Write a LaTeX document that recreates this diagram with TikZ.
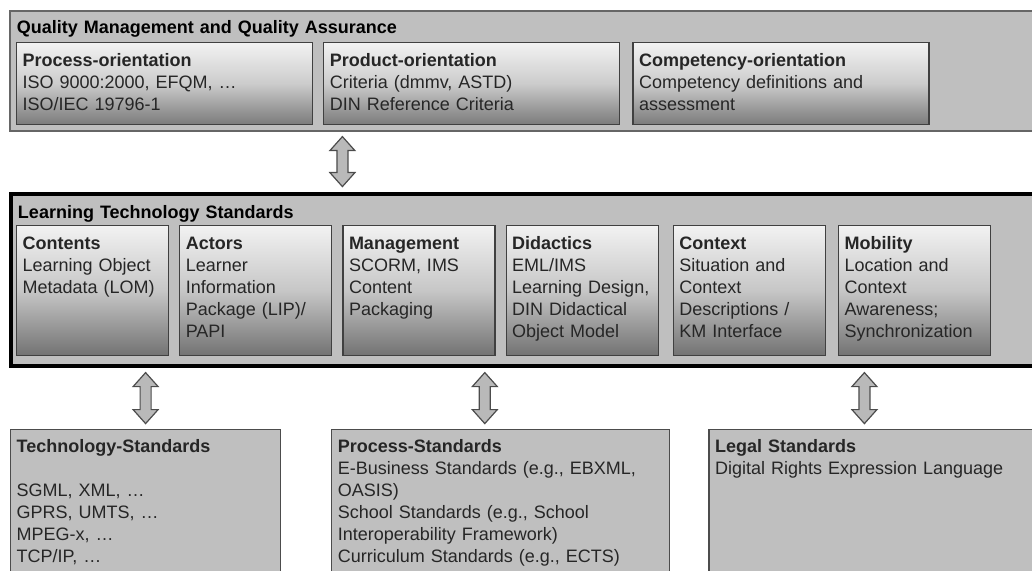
\documentclass[tikz,border=0pt]{standalone}
\usepackage{fontspec}
\setsansfont{Liberation Sans}
\usetikzlibrary{
  positioning,
  calc
}

\begin{document}
\begin{tikzpicture}[node distance=5pt, every node/.style={font=\sffamily\fontsize{9}{11}\selectfont}, align=left,
  qmbox/.style={draw=black!60, line width=0.8pt, rectangle, fill=gray!50, inner xsep=3.5pt, inner ysep=3pt, text width=513pt, text height=8.5pt, text depth=45.5pt, font=\sffamily\bfseries\fontsize{9}{11}\selectfont},
  ltsbox/.style={draw=black, line width=2pt, rectangle, fill=gray!50, inner xsep=3.5pt, inner ysep=3pt, text width=513pt, text height=9.5pt, text depth=70.5pt, font=\sffamily\bfseries\fontsize{9}{11}\selectfont},
  qbox/.style={draw=black!75, line width=0.6pt, rectangle, top color=black!5, bottom color=black!52, middle color=black!20, text=black!85, inner sep=3pt, text width=142pt, text height=9pt, text depth=26pt},
  lbox/.style={draw=black!75, line width=0.6pt, rectangle, top color=black!5, bottom color=black!55, middle color=black!22, text=black!85, inner sep=3pt, text width=70pt, text height=9pt, text depth=50pt},
  sbox/.style={draw=black!70, line width=0.6pt, rectangle, fill=gray!50, text=black!85, inner sep=3pt, text height=8.5pt, text depth=72pt},
  dblarrow/.style={draw=black!70, fill=gray!55, line width=0.6pt, line join=miter, to path={
    ($(\tikztostart)+(0,-2.5pt)$) -- ++(6.25pt,-7pt) -- ++(-3.5pt,0)
    -- ($(\tikztotarget)+(2.75pt,9.5pt)$) -- ++(3.5pt,0) -- ($(\tikztotarget)+(0,2.5pt)$)
    -- ++(-6.25pt,7pt) -- ++(3.5pt,0) -- ($(\tikztostart)+(-2.75pt,-9.5pt)$) -- ++(-3.5pt,0) -- cycle}}
]
\useasboundingbox (0,0) rectangle (516pt,-285.5pt);

% Quality management
\node[qmbox, anchor=north west] (qm) at (4.5pt,-5pt) {Quality Management and Quality Assurance};
\node[qbox, below right=16pt and 3.5pt of qm.north west] (porient) {\textbf{Process-orientation}\\ ISO 9000:2000, EFQM, …\\ ISO/IEC 19796-1};
\node[qbox, right=of porient] (prorient) {\textbf{Product-orientation}\\ Criteria (dmmv, ASTD)\\ DIN Reference Criteria};
\node[qbox, right=6pt of prorient] (corient) {\textbf{Competency-orientation}\\ Competency definitions and\\ assessment};

% Learning technology standards
\node[ltsbox, below right=30pt and 0pt of qm.south west] (lts) {Learning Technology Standards};
\node[lbox, below right=16.5pt and 3.5pt of lts.north west] (cont) {\textbf{Contents}\\ Learning Object\\ Metadata (LOM)};
\node[lbox, right=of cont] (act) {\textbf{Actors}\\ Learner\\ Information\\ Package (LIP)/\\ PAPI};
\node[lbox, right=of act] (mgmt) {\textbf{Management}\\ SCORM, IMS\\ Content\\ Packaging};
\node[lbox, right=of mgmt] (did) {\textbf{Didactics}\\ EML/IMS\\ Learning Design,\\ DIN Didactical\\ Object Model};
\node[lbox, right=7pt of did] (ctx) {\textbf{Context}\\ Situation and\\ Context\\ Descriptions /\\ KM Interface};
\node[lbox, right=6pt of ctx] (mob) {\textbf{Mobility}\\ Location and\\ Context\\ Awareness;\\ Synchronization};

% Standards
\node[sbox, text width=129pt, below right=30.5pt and 0.5pt of lts.south west] (techstd) {\textbf{Technology-Standards}\\[11pt] SGML, XML, …\\ GPRS, UMTS, …\\ MPEG-x, …\\ TCP/IP, …};
\node[sbox, text width=163pt, right=25pt of techstd] (procstd) {\textbf{Process-Standards}\\ E-Business Standards (e.g., EBXML,\\ OASIS)\\ School Standards (e.g., School\\ Interoperability Framework)\\ Curriculum Standards (e.g., ECTS)};
\node[sbox, text width=170pt, right=19pt of procstd] (legalstd) {\textbf{Legal Standards}\\ Digital Rights Expression Language};

% Arrows
\coordinate (pa) at ([xshift=-8pt]procstd.north);
\coordinate (la) at ([xshift=78pt]legalstd.north west);
\draw[dblarrow] (qm.south -| mgmt.west) to (lts.north -| mgmt.west);
\draw[dblarrow] (lts.south -| techstd.north) to (techstd.north);
\draw[dblarrow] (lts.south -| pa) to (pa);
\draw[dblarrow] (lts.south -| la) to (la);

\end{tikzpicture}
\end{document}
